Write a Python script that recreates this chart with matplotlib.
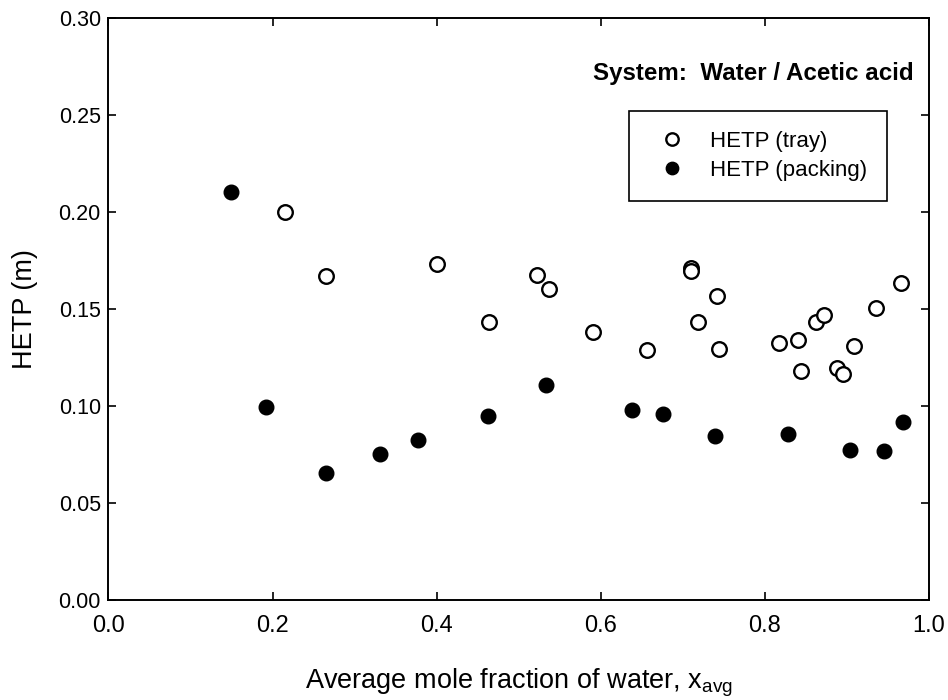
import matplotlib
matplotlib.use("Agg")
import matplotlib.pyplot as plt

plt.rcParams['font.family'] = ['Liberation Sans', 'DejaVu Sans']
plt.rcParams['mathtext.default'] = 'regular'

tray_x = [0.2147, 0.2646, 0.4005, 0.4633, 0.5221, 0.5367, 0.5910, 0.6567, 0.7095, 0.7095,
          0.7184, 0.7411, 0.7439, 0.8169, 0.8404, 0.8445, 0.8628, 0.8725, 0.8878, 0.8948,
          0.9082, 0.9358, 0.9662]
tray_y = [0.2002, 0.1672, 0.1732, 0.1433, 0.1674, 0.1602, 0.1383, 0.1289, 0.1710, 0.1697,
          0.1431, 0.1569, 0.1294, 0.1326, 0.1340, 0.1182, 0.1433, 0.1468, 0.1194, 0.1165,
          0.1311, 0.1504, 0.1634]

pack_x = [0.1487, 0.1925, 0.2655, 0.3311, 0.3774, 0.4625, 0.5335, 0.6384, 0.6762, 0.7394,
          0.8279, 0.9033, 0.9447, 0.9678]
pack_y = [0.2105, 0.0993, 0.0653, 0.0753, 0.0825, 0.0948, 0.1107, 0.0979, 0.0960, 0.0844,
          0.0856, 0.0775, 0.0766, 0.0919]

xticks = [0.0, 0.2, 0.4, 0.6, 0.8, 1.0]
yticks = [0.00, 0.05, 0.10, 0.15, 0.20, 0.25, 0.30]

fig = plt.figure(figsize=(9.48, 7.0), dpi=100)
ax = fig.add_axes([0.11445, 0.142857, 0.8655, 0.8314])

ax.plot(tray_x, tray_y, linestyle='none', marker='o', markersize=10.5,
        markerfacecolor='white', markeredgecolor='black', markeredgewidth=1.7,
        label='HETP (tray)')
ax.plot(pack_x, pack_y, linestyle='none', marker='o', markersize=10.5,
        markerfacecolor='black', markeredgecolor='black', markeredgewidth=1.0,
        label='HETP (packing)')

ax.set_xlim(0, 1.0)
ax.set_ylim(0, 0.30)
ax.set_xticks(xticks)
ax.set_yticks(yticks)
ax.set_xticklabels([f"{v:.1f}" for v in xticks])
ax.set_yticklabels([f"{v:.2f}" for v in yticks])
ax.tick_params(direction='in', length=6, width=1.2, top=True, right=True)
ax.tick_params(axis='x', labelsize=17, pad=11)
ax.tick_params(axis='y', labelsize=15.5, pad=5.5)
for s in ax.spines.values():
    s.set_linewidth(1.4)

ax.set_xlabel(r"Average mole fraction of water, x$_{avg}$", fontsize=19.5, labelpad=21)
ax.set_ylabel("HETP (m)", fontsize=19.5, labelpad=15)

ax.text(0.981, 0.905, "System:  Water / Acetic acid", transform=ax.transAxes,
        ha='right', va='center', fontsize=17.4, fontweight='bold')

leg = ax.legend(loc='upper right', bbox_to_anchor=(0.9488, 0.8407), borderaxespad=0,
                fontsize=16, frameon=True, fancybox=False, edgecolor='black',
                framealpha=1, markerscale=0.85, handlelength=2.0, handletextpad=0.72,
                borderpad=0.9, labelspacing=0.35)
leg.get_frame().set_linewidth(1.2)

fig.savefig("out.png", dpi=100)
